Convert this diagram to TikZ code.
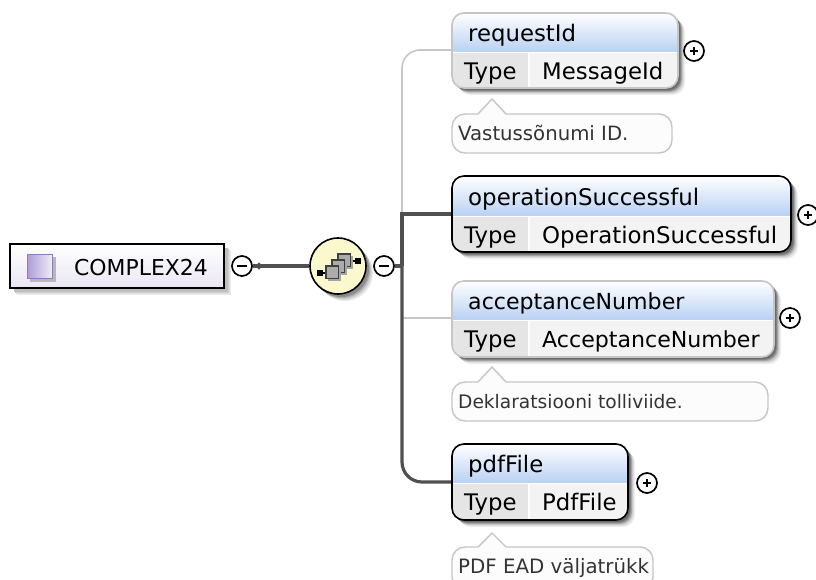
\documentclass[tikz,border=0pt]{standalone}
\usepackage{fontspec}
\setmainfont{DejaVu Sans}
\usetikzlibrary{shapes.geometric}
\definecolor{optline}{HTML}{C6C6C6}
\definecolor{wire}{HTML}{505050}
\definecolor{headblue}{HTML}{B8D1F3}
\definecolor{cellA}{HTML}{E5E5E5}
\definecolor{cellB}{HTML}{F3F3F3}
\definecolor{notetext}{HTML}{333333}
\definecolor{notefill}{HTML}{FCFCFC}
\definecolor{rootbottom}{HTML}{E9E6F3}
\definecolor{seqfill}{HTML}{FBF8CE}
\definecolor{iconline}{HTML}{9078C4}
\definecolor{iconleft}{HTML}{AD9DD8}
\definecolor{iconright}{HTML}{F0EEF8}
\newcommand{\lsz}{22.8}
\tikzset{
  x=1pt,y=-1pt,
  label text/.style={font=\fontsize{\lsz}{26}\selectfont,anchor=base west,inner sep=0pt,text=black},
  note text/.style={anchor=base west,inner sep=0pt,text=notetext},
  thinwire/.style={draw=optline,line width=1.6pt,rounded corners=18pt},
  thickwire/.style={draw=wire,line width=3.2pt},
  toggle/.style={circle,draw=black,line width=1.7pt,fill=white,minimum size=20pt,inner sep=0pt},
}
% \elem{name}{x1}{y1}{x2}{y2}{ymid}{xtype}{title}{type}{line colour}
\newcommand{\elem}[9]{%
  \def\nm{#1}\def\xa{#2}\def\ya{#3}\def\xb{#4}\def\yb{#5}\def\ym{#6}\def\xt{#7}\def\ttl{#8}\def\tpe{#9}\elemrest}
\newcommand{\elemrest}[2]{%
  \foreach \o/\c in {7/6,6/12,5/20,4/34,3/48,2/58}{
    \fill[black!\c,rounded corners=12pt] (\xa+\o,\ya+\o) rectangle (\xb+\o,\yb+\o);}
  \begin{scope}
    \clip[rounded corners=12pt] (\xa,\ya) rectangle (\xb,\yb);
    \shade[top color=white,bottom color=headblue] (\xa,\ya) rectangle (\xb,\ym);
    \fill[cellA] (\xa,\ym) rectangle (\xt,\yb);
    \fill[cellB] (\xt,\ym) rectangle (\xb,\yb);
    \draw[white,line width=1.5pt] (\xa,\ym+0.5) -- (\xb,\ym+0.5);
    \draw[white,line width=1.5pt] (\xt,\ym) -- (\xt,\yb);
  \end{scope}
  \draw[draw=#1,line width=1.6pt,rounded corners=12pt] (\xa,\ya) rectangle (\xb,\yb);
  \node[label text,font=\fontsize{#2}{26}\selectfont] at (\xa+16,\ym-11) {\ttl};
  \node[label text] at (\xa+12,\ym+27) {Type};
  \node[label text,font=\fontsize{#2}{26}\selectfont] at (\xt+13,\ym+27) {\tpe};
}
% \notebox{x1}{y1}{x2}{y2}{peak y}{font size}{text}
\newcommand{\notebox}[7]{%
  \draw[draw=optline,line width=1.4pt,fill=notefill]
    (478,#2) -- (492,#5) -- (506,#2) -- (#3-13,#2)
    arc[start angle=-90,end angle=0,radius=13pt,x radius=13pt,y radius=-13pt]
    -- (#3,#4-13)
    arc[start angle=0,end angle=90,radius=13pt,x radius=13pt,y radius=-13pt]
    -- (#1+13,#4)
    arc[start angle=90,end angle=180,radius=13pt,x radius=13pt,y radius=-13pt]
    -- (#1,#2+13)
    arc[start angle=180,end angle=270,radius=13pt,x radius=13pt,y radius=-13pt]
    -- cycle;
  \node[note text,font=\fontsize{#6}{22}\selectfont] at (#1+6,#2+26) {#7};
}
\newcommand{\plusmark}[3]{%
  \node[toggle] (#1) at (#2,#3) {};
  \draw[line width=1.5pt] (#2-4,#3) -- (#2+4,#3) (#2,#3-4) -- (#2,#3+4);
}
\newcommand{\minusmark}[3]{%
  \node[toggle] (#1) at (#2,#3) {};
  \draw[line width=1.5pt] (#2-5,#3) -- (#2+5,#3);
}
\begin{document}
\begin{tikzpicture}
\useasboundingbox (0,0) rectangle (816,579);
\fill[white] (0,0) rectangle (816,579);

% named anchors for connectors
\node[inner sep=0pt,minimum width=226pt,minimum height=78pt] (requestId) at (565,50) {};
\node[inner sep=0pt,minimum width=339pt,minimum height=76pt] (operationSuccessful) at (621.5,214) {};
\node[inner sep=0pt,minimum width=322pt,minimum height=76pt] (acceptanceNumber) at (613,318) {};
\node[inner sep=0pt,minimum width=176pt,minimum height=76pt] (pdfFile) at (540,482) {};
\coordinate (trunk) at (402,266);

% connectors (under the boxes)
\draw[thinwire] (requestId.west) -- (402,50) -- (402,214);
\draw[draw=optline,line width=1.6pt] (402,318) -- (acceptanceNumber.west);
\draw[thickwire] (operationSuccessful.west) -- (402,214) -- (trunk);
\draw[thickwire,rounded corners=20pt] (trunk) -- (402,482) -- (pdfFile.west);

% root
\foreach \o/\c in {7/8,6/12,5/18,4/25}{\fill[black!\c] (10+\o,244+\o) rectangle (224+\o,288+\o);}
\node[draw=black,line width=1.6pt,minimum width=214pt,minimum height=44pt,inner sep=0pt,
      top color=white,bottom color=rootbottom] (root) at (117,266) {};
\fill[black!28] (30,257) rectangle (56,282);
\draw[draw=iconline,line width=1.6pt,left color=iconleft,right color=iconright] (27.5,254.5) rectangle (52.5,278.5);
\node[label text,font=\fontsize{21.9}{26}\selectfont] at (74,275) {COMPLEX24};

% compositor
\minusmark{rootToggle}{242}{266}
\foreach \o/\c in {7/8,6/14,5/22,4/32,3/45}{\fill[black!\c] (338+\o,266+\o) circle[radius=28];}
\node[circle,draw=black,line width=1.6pt,fill=seqfill,minimum size=56pt,inner sep=0pt] (seq) at (338,266) {};
\minusmark{seqToggle}{384}{266}
\draw[thickwire] (rootToggle.east) -- (seq.west);
\fill[wire] (259,262.5) -- (255,266) -- (259,269.5) -- (263,266) -- cycle;
\draw[thickwire] (seqToggle.east) -- (trunk |- seqToggle.east);

% sequence icon
\draw[black,line width=1.4pt] (318,273) -- (330,273) (345,261) -- (358,261);
\fill[black] (317,270) rectangle (323,276);
\fill[black] (355,258) rectangle (361,264);
\foreach \xl/\yt in {338/254,332/260,326/266}{
  \fill[black!35] (\xl+1.5,\yt+1.5) rectangle (\xl+14.5,\yt+14.5);
  \draw[black!75,fill=black!33,line width=1.1pt] (\xl,\yt) rectangle (\xl+12.5,\yt+12.5);}

% elements
\elem{requestId}{452}{13}{678}{88}{52}{529}{requestId}{MessageId}{optline}{22.8}
\plusmark{requestIdToggle}{694}{51}
\notebox{452}{114}{672}{153}{99}{19.7}{Vastussõnumi ID.}

\elem{operationSuccessful}{452}{176}{791}{252}{216}{529}{operationSuccessful}{OperationSuccessful}{black}{22.9}
\plusmark{operationSuccessfulToggle}{808}{215}

\elem{acceptanceNumber}{452}{281}{774}{357}{320}{529}{acceptanceNumber}{AcceptanceNumber}{optline}{22.1}
\plusmark{acceptanceNumberToggle}{790}{318}
\notebox{452}{382}{768}{421}{367}{18.6}{Deklaratsiooni tolliviide.}

\elem{pdfFile}{452}{444}{628}{520}{483}{529}{pdfFile}{PdfFile}{black}{22.8}
\plusmark{pdfFileToggle}{647}{483}
\notebox{452}{547}{653}{590}{533}{19.8}{PDF EAD väljatrükk}
\end{tikzpicture}
\end{document}
